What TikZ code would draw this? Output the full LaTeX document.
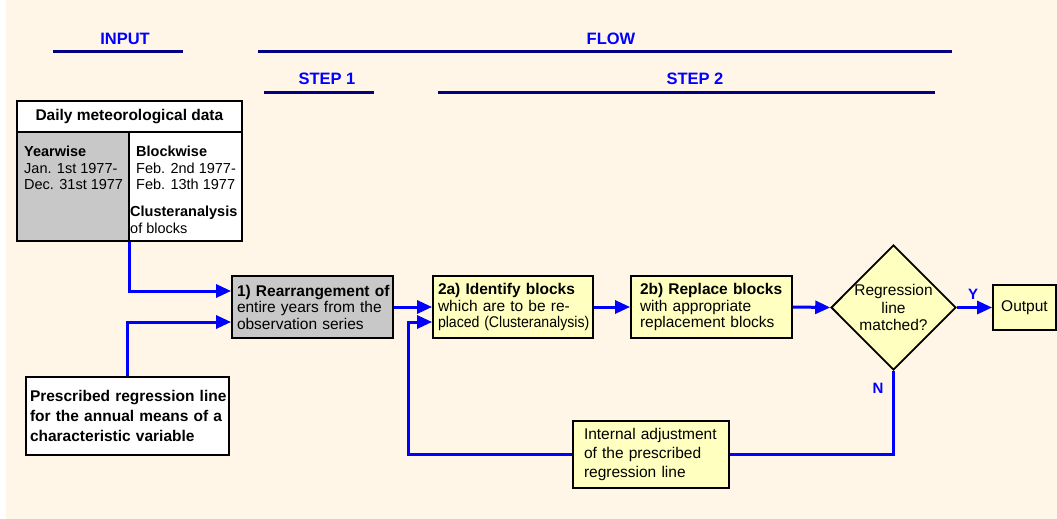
\documentclass[tikz,border=0pt]{standalone}
\usepackage{graphicx}
\usepackage{fontspec}
\setmainfont{Liberation Sans}
\usetikzlibrary{arrows.meta,shapes.geometric,calc}
\definecolor{cream}{RGB}{255,246,232}
\definecolor{boxgray}{RGB}{200,200,200}
\definecolor{boxyellow}{RGB}{255,255,192}
\definecolor{navy}{RGB}{0,0,128}
\definecolor{flowblue}{RGB}{0,0,255}
\tikzset{
  x=1pt, y=-1pt,
  txt/.style={font=\fontsize{14.5}{16.5}\selectfont, text=black},
  ptxt/.style={font=\fontsize{15.5}{16.5}\selectfont, text=black},
  boxed/.style={draw=black, line width=1.8pt, txt, inner sep=0pt},
  procbox/.style={draw=black, line width=1.8pt, ptxt, inner sep=0pt, align=left, text width=#1},
  headlbl/.style={font=\fontsize{16.5}{18}\selectfont\bfseries, text=flowblue, inner sep=0pt},
  headline/.style={draw=navy, line width=3pt},
  flow/.style={draw=flowblue, line width=3pt, -{Triangle[length=15pt,width=13pt]}},
  flowline/.style={draw=flowblue, line width=3pt},
  yn/.style={font=\fontsize{15}{16}\selectfont\bfseries, text=flowblue, inner sep=0pt}
}
\begin{document}
\begin{tikzpicture}
\useasboundingbox (0,0) rectangle (1057,519);
\fill[cream] (0,0) rectangle (1057,519);
\fill[white] (0,0) rectangle (6,519);

% header labels
\node[headlbl] (lin) at (125,39) {INPUT};
\node[headlbl] (lflow) at (611,39) {FLOW};
\node[headlbl] (ls1) at (327,79) {STEP 1};
\node[headlbl] (ls2) at (695,79) {STEP 2};
\draw[headline] (53,52) -- (183,52);
\draw[headline] (258,52) -- (952,52);
\draw[headline] (264,92) -- (374,92);
\draw[headline] (438,92) -- (935,92);

% daily data table
\node[boxed, fill=white, minimum width=225pt, minimum height=31pt, anchor=north west,
      font=\fontsize{15.5}{16.5}\selectfont\bfseries] (hdr) at (16,100) {Daily meteorological data};
\node[boxed, fill=boxgray, minimum width=112pt, minimum height=109pt, anchor=north west] (cellL) at (16,131) {};
\node[boxed, fill=white, minimum width=113pt, minimum height=109pt, anchor=north west] (cellR) at (128,131) {};
\node[txt, align=left, anchor=north west, inner sep=0pt] (tyw) at (24,146)
  {\textbf{Yearwise}\\Jan. 1st 1977-\\Dec. 31st 1977};
\node[txt, align=left, anchor=north west, inner sep=0pt] (tbw) at (136,146)
  {\textbf{Blockwise}\\Feb. 2nd 1977-\\Feb. 13th 1977};
\node[txt, align=left, anchor=north west, inner sep=0pt] (tca) at (130,206)
  {\textbf{Clusteranalysis}\\of blocks};

% prescribed regression line
\node[boxed, fill=white, minimum width=203pt, minimum height=78pt, align=left,
      font=\fontsize{15.5}{20}\selectfont\bfseries, text width=195pt] (presc) at (127.5,416)
  {\mbox{Prescribed regression line}\\\mbox{for the annual means of a}\\characteristic variable};

% process boxes
\node[procbox=151pt, fill=boxgray, minimum width=161pt, minimum height=62pt] (box1) at (312.5,307)
  {\mbox{\textbf{1) Rearrangement of}}\\\mbox{entire years from the}\\observation series};
\node[procbox=150pt, fill=boxyellow, minimum width=160pt, minimum height=62pt] (box2a) at (513,307)
  {\mbox{\textbf{2a) Identify blocks}}\\\mbox{which are to be re-}\\\scalebox{0.91}[1]{placed (Clusteranalysis)}};
\node[procbox=143pt, fill=boxyellow, minimum width=161pt, minimum height=62pt] (box2b) at (711.5,307)
  {\mbox{\textbf{2b) Replace blocks}}\\\mbox{with appropriate}\\\mbox{replacement blocks}};
\node[draw=black, line width=1.8pt, fill=boxyellow, diamond, inner sep=0pt, aspect=1,
      minimum width=123pt, minimum height=125pt, font=\fontsize{15.5}{17.5}\selectfont, align=center] (dia) at (893.5,307.5)
  {Regression\\line\\matched?};
\node[boxed, fill=boxyellow, minimum width=63pt, minimum height=45pt, ptxt] (out) at (1024.5,307.5) {Output};
\node[boxed, fill=boxyellow, minimum width=156pt, minimum height=67pt, align=left, text width=134pt,
      font=\fontsize{15.5}{19}\selectfont] (adj) at (651,454.5)
  {\mbox{Internal adjustment}\\\mbox{of the prescribed}\\\mbox{regression line}};

% labels
\node[yn] (ly) at (973,294) {Y};
\node[yn] (ln) at (878,388) {N};

% connectors
\draw[flow] (cellL.south east) |- ($(box1.west)+(0,-16)$);
\draw[flow] (presc.north) |- ($(box1.west)+(0,15)$);
\draw[flow] (box1.east) -- (box2a.west);
\draw[flow] (box2a.east) -- (box2b.west);
\draw[flow] (box2b.east) -- (dia.west);
\draw[flow] (dia.east) -- (out.west);
\draw[flowline] (dia.south) |- (adj.east);
\coordinate (fb) at (408,322);
\draw[flow] (adj.west) -| (fb) -- ($(box2a.west)+(0,15)$);
\end{tikzpicture}
\end{document}
